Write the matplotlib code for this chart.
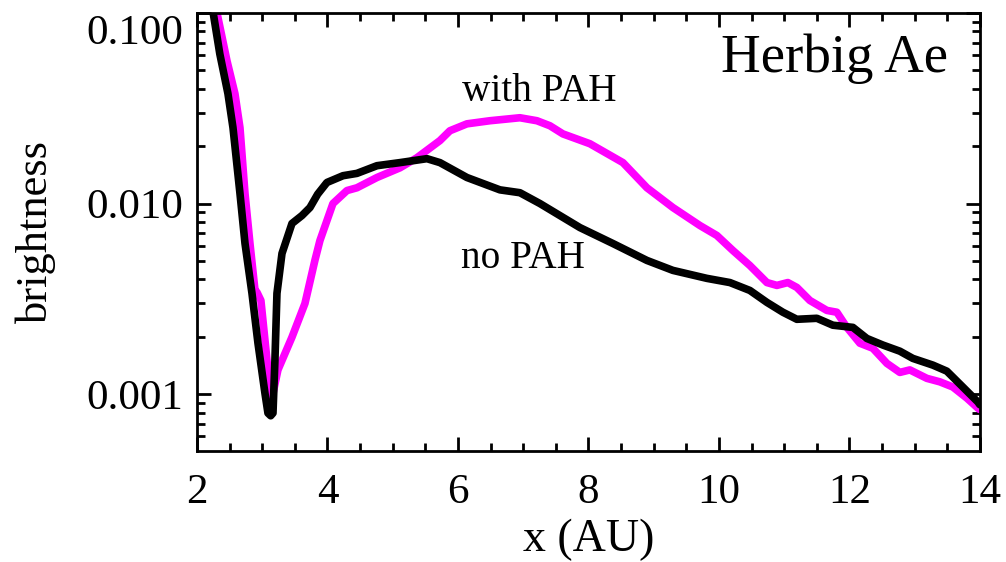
import matplotlib
matplotlib.use("Agg")
import matplotlib.pyplot as plt
import matplotlib.transforms as mtransforms
from matplotlib.ticker import FixedLocator, NullFormatter, LogLocator, MultipleLocator

# no PAH (black)
x_nopah = [2.22, 2.35, 2.475, 2.552, 2.659, 2.736, 2.843, 2.935, 3.042, 3.088, 3.13, 3.165,
           3.195, 3.226, 3.303, 3.456, 3.609, 3.732, 3.85, 3.992, 4.238, 4.452, 4.759, 5.111,
           5.525, 5.724, 6.138, 6.644, 6.950, 7.257, 7.870, 8.376, 8.897, 9.295, 9.816, 10.169,
           10.475, 10.736, 10.981, 11.195, 11.502, 11.747, 12.054, 12.268, 12.513, 12.774,
           12.973, 13.280, 13.494, 13.739, 13.969, 14.0]
y_nopah = [0.115, 0.061, 0.0377, 0.025, 0.0113, 0.00618, 0.00338, 0.00185, 0.00101, 0.000795,
           0.00077, 0.000795, 0.00151, 0.00338, 0.00547, 0.00786, 0.00865, 0.00953, 0.0112,
           0.0129, 0.0140, 0.0144, 0.0158, 0.0164, 0.0172, 0.0164, 0.0137, 0.0118, 0.0114,
           0.0100, 0.00748, 0.00617, 0.00503, 0.00446, 0.00405, 0.00385, 0.00350, 0.00303,
           0.00269, 0.00247, 0.00250, 0.00230, 0.00224, 0.00196, 0.00181, 0.00168, 0.00154,
           0.00142, 0.00132, 0.00109, 0.00091, 0.00088]

# with PAH (magenta)
x_pah = [2.27, 2.460, 2.582, 2.659, 2.736, 2.812, 2.889, 2.920, 2.98, 3.073, 3.134, 3.241,
         3.456, 3.655, 3.808, 3.885, 4.084, 4.299, 4.452, 4.759, 5.111, 5.372, 5.724, 5.877,
         6.138, 6.490, 6.950, 7.211, 7.410, 7.609, 8.023, 8.529, 8.897, 9.295, 9.709, 9.969,
         10.215, 10.475, 10.736, 10.889, 11.057, 11.195, 11.395, 11.655, 11.808, 11.962,
         12.161, 12.360, 12.575, 12.774, 12.927, 13.188, 13.387, 13.586, 13.801, 13.969, 14.0]
y_pah = [0.115, 0.0561, 0.0377, 0.025, 0.0113, 0.00618, 0.00351, 0.00342, 0.0031, 0.00151,
         0.000897, 0.00134, 0.00199, 0.00299, 0.00504, 0.00640, 0.0100, 0.0117, 0.0121,
         0.0137, 0.0154, 0.0174, 0.0214, 0.0241, 0.0262, 0.0272, 0.0282, 0.0272, 0.0256,
         0.0232, 0.0206, 0.0164, 0.0121, 0.00953, 0.00767, 0.00680, 0.00567, 0.00473,
         0.00385, 0.00372, 0.00385, 0.00363, 0.00310, 0.00275, 0.00269, 0.00224, 0.00185,
         0.00174, 0.00145, 0.00130, 0.00134, 0.00121, 0.00116, 0.00109, 0.000953, 0.000845,
         0.00083]

x_ticks = [2, 4, 6, 8, 10, 12, 14]
y_ticks = [0.001, 0.010, 0.100]
y_ticklabels = ["0.001", "0.010", "0.100"]

plt.rcParams['font.family'] = ['Liberation Serif', 'DejaVu Serif']

fig = plt.figure(figsize=(10.06, 5.62), dpi=100)
ax = fig.add_axes([0.1958, 0.1975, 0.7782, 0.7794])

ax.plot(x_pah, y_pah, color='#ff00ff', lw=5.5, solid_joinstyle='round', solid_capstyle='round', zorder=2)
ax.plot(x_nopah, y_nopah, color='black', lw=5.5, solid_joinstyle='round', solid_capstyle='round', zorder=3)

ax.set_yscale('log')
ax.set_xlim(2, 14)
ax.set_ylim(5.03e-4, 0.1)

ax.xaxis.set_major_locator(FixedLocator(x_ticks))
ax.xaxis.set_minor_locator(MultipleLocator(0.5))
ax.set_yticks(y_ticks)
ax.set_yticklabels(y_ticklabels)
ax.yaxis.set_minor_locator(LogLocator(base=10, subs=[2, 3, 4, 5, 6, 7, 8, 9]))
ax.yaxis.set_minor_formatter(NullFormatter())

ax.tick_params(which='both', direction='in', top=True, right=True, width=2, colors='black')
ax.tick_params(which='major', length=10, labelsize=31)
ax.tick_params(which='minor', length=5.5)
ax.tick_params(axis='y', which='major', pad=10)
ax.tick_params(axis='x', which='major', pad=16)

# top y label sits slightly below its tick, as in the reference
top_lbl = ax.get_yticklabels()[-1]
top_lbl.set_transform(top_lbl.get_transform() +
                      mtransforms.ScaledTranslation(0, -12 / 72, fig.dpi_scale_trans))

for s in ax.spines.values():
    s.set_linewidth(2)

ax.set_xlabel('x (AU)', fontsize=33, labelpad=5)
ax.set_ylabel('brightness', fontsize=32, labelpad=22)

ax.text(0.959, 0.865, 'Herbig Ae', transform=ax.transAxes, ha='right', va='baseline', fontsize=39.5)
ax.text(7.24, 0.0346, 'with PAH', ha='center', va='baseline', fontsize=28.3)
ax.text(6.99, 0.00457, 'no PAH', ha='center', va='baseline', fontsize=28.3)

fig.savefig('out.png', dpi=100)
